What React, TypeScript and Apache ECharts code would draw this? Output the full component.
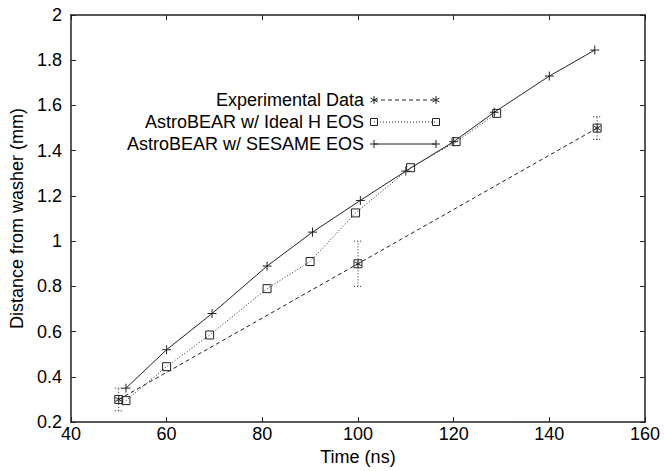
import React, { useEffect, useRef } from "react";
import * as echarts from "echarts";

const expX = [50, 100, 150];
const expY = [0.3, 0.9, 1.5];
const expErr = [0.05, 0.1, 0.05];

const idealX = [51.5, 60, 69, 81, 90, 99.5, 111, 120.5, 129];
const idealY = [0.295, 0.445, 0.585, 0.79, 0.91, 1.125, 1.325, 1.44, 1.565];

const sesX = [51.5, 60, 69.5, 81, 90.5, 100.5, 110, 120, 128.5, 140, 149.5];
const sesY = [0.35, 0.52, 0.68, 0.89, 1.04, 1.18, 1.31, 1.44, 1.57, 1.73, 1.845];

const legendNames = ["Experimental Data", "AstroBEAR w/ Ideal H EOS", "AstroBEAR w/ SESAME EOS"];

const FONT = "Liberation Sans";
const FS = 18;
const INK = "#222";
const PLUS = "path://M0,-1L0,1M-1,0L1,0";
const BOX = "path://M-1,-1L1,-1L1,1L-1,1Z";
const ASTBOX =
  "path://M-1,-1L1,-1L1,1L-1,1ZM0,-1L0,1M-0.87,-0.5L0.87,0.5M-0.87,0.5L0.87,-0.5";

export default function App() {
  const ref = useRef<HTMLDivElement>(null);
  useEffect(() => {
    document.body.style.margin = "0";
    const chart = echarts.init(ref.current!, null, { renderer: "svg" });
    const zip = (xs: number[], ys: number[]) => xs.map((x, i) => [x, ys[i]]);

    // legend (gnuplot style: text right-aligned, sample to the right)
    const lx0 = 374, lx1 = 436, tx = 364;
    const rows = [100, 122, 144];
    const g: any[] = [];
    const ln = (x1: number, y1: number, x2: number, y2: number) => ({
      type: "line",
      shape: { x1, y1, x2, y2 },
      style: { stroke: INK, lineWidth: 1 },
    });
    const plus = (x: number, y: number) => [ln(x - 4, y, x + 4, y), ln(x, y - 4, x, y + 4)];
    const box = (x: number, y: number) => [
      { type: "rect", shape: { x: x - 3.5, y: y - 3.5, width: 7, height: 7 }, style: { fill: "none", stroke: INK, lineWidth: 1 } },
    ];
    const ast = (x: number, y: number) => [
      ln(x, y - 4, x, y + 4),
      ln(x - 3.5, y - 2, x + 3.5, y + 2),
      ln(x - 3.5, y + 2, x + 3.5, y - 2),
    ];
    const dashes = [[4, 3], [1, 2], null];
    const marks = [ast, box, plus];
    rows.forEach((y, i) => {
      g.push({
        type: "text",
        x: tx,
        y,
        style: { text: legendNames[i], font: `${FS}px "${FONT}"`, fill: "#000", align: "right", verticalAlign: "middle" },
      });
      g.push({
        type: "line",
        shape: { x1: lx0, y1: y, x2: lx1, y2: y },
        style: { stroke: INK, lineWidth: 1, lineDash: dashes[i] || undefined },
      });
      g.push(...marks[i](lx0, y), ...marks[i](lx1, y));
    });

    const axisCommon = {
      axisLine: { show: true, onZero: false, lineStyle: { color: INK, width: 1.5 } },
      axisTick: { show: true, inside: true, length: 5, lineStyle: { color: INK, width: 1 } },
      splitLine: { show: false },
    };
    const lbl = { fontSize: FS, color: "#000", fontFamily: FONT };

    chart.setOption({
      animation: false,
      backgroundColor: "#fff",
      grid: { left: 69, right: 19, top: 15, bottom: 44, containLabel: false },
      textStyle: { fontFamily: FONT },
      xAxis: [
        {
          type: "value",
          min: 40,
          max: 160,
          interval: 20,
          name: "Time (ns)",
          nameLocation: "middle",
          nameGap: 21,
          nameTextStyle: lbl,
          axisLabel: { ...lbl, margin: 3 },
          ...axisCommon,
        },
        {
          type: "value",
          position: "top",
          min: 40,
          max: 160,
          interval: 20,
          axisLabel: { show: false },
          ...axisCommon,
        },
      ],
      yAxis: [
        {
          type: "value",
          min: 0.2,
          max: 2,
          interval: 0.2,
          name: "Distance from washer (mm)",
          nameLocation: "middle",
          nameGap: 43,
          nameTextStyle: lbl,
          axisLabel: { ...lbl, margin: 9 },
          ...axisCommon,
        },
        {
          type: "value",
          position: "right",
          min: 0.2,
          max: 2,
          interval: 0.2,
          axisLabel: { show: false },
          ...axisCommon,
        },
      ],
      series: [
        {
          type: "line",
          name: legendNames[0],
          data: zip(expX, expY),
          symbol: ASTBOX,
          symbolSize: 8,
          lineStyle: { color: INK, width: 1, type: [4, 3] },
          itemStyle: { color: "rgba(0,0,0,0)", borderColor: INK, borderWidth: 1 },
          z: 3,
        },
        {
          type: "custom",
          name: "err",
          data: expX.map((x, i) => [x, expY[i], expY[i] - expErr[i], expY[i] + expErr[i]]),
          renderItem: (_p: any, api: any) => {
            const x = api.value(0);
            const lo = api.coord([x, api.value(2)]);
            const hi = api.coord([x, api.value(3)]);
            const st = { stroke: INK, lineWidth: 1, lineDash: [1, 2] };
            return {
              type: "group",
              children: [
                { type: "line", shape: { x1: lo[0], y1: lo[1], x2: hi[0], y2: hi[1] }, style: st },
                { type: "line", shape: { x1: lo[0] - 4, y1: lo[1], x2: lo[0] + 4, y2: lo[1] }, style: st },
                { type: "line", shape: { x1: hi[0] - 4, y1: hi[1], x2: hi[0] + 4, y2: hi[1] }, style: st },
              ],
            };
          },
          encode: { x: 0, y: 1 },
          z: 2,
        },
        {
          type: "line",
          name: legendNames[1],
          data: zip(idealX, idealY),
          symbol: BOX,
          symbolSize: 8,
          lineStyle: { color: INK, width: 1, type: [1, 2] },
          itemStyle: { color: "rgba(0,0,0,0)", borderColor: INK, borderWidth: 1 },
          z: 3,
        },
        {
          type: "line",
          name: legendNames[2],
          data: zip(sesX, sesY),
          symbol: PLUS,
          symbolSize: 9,
          lineStyle: { color: INK, width: 1 },
          itemStyle: { color: "rgba(0,0,0,0)", borderColor: INK, borderWidth: 1 },
          z: 3,
        },
      ],
      graphic: g,
    });
    return () => chart.dispose();
  }, []);
  return <div ref={ref} style={{ width: 664, height: 471 }} />;
}
